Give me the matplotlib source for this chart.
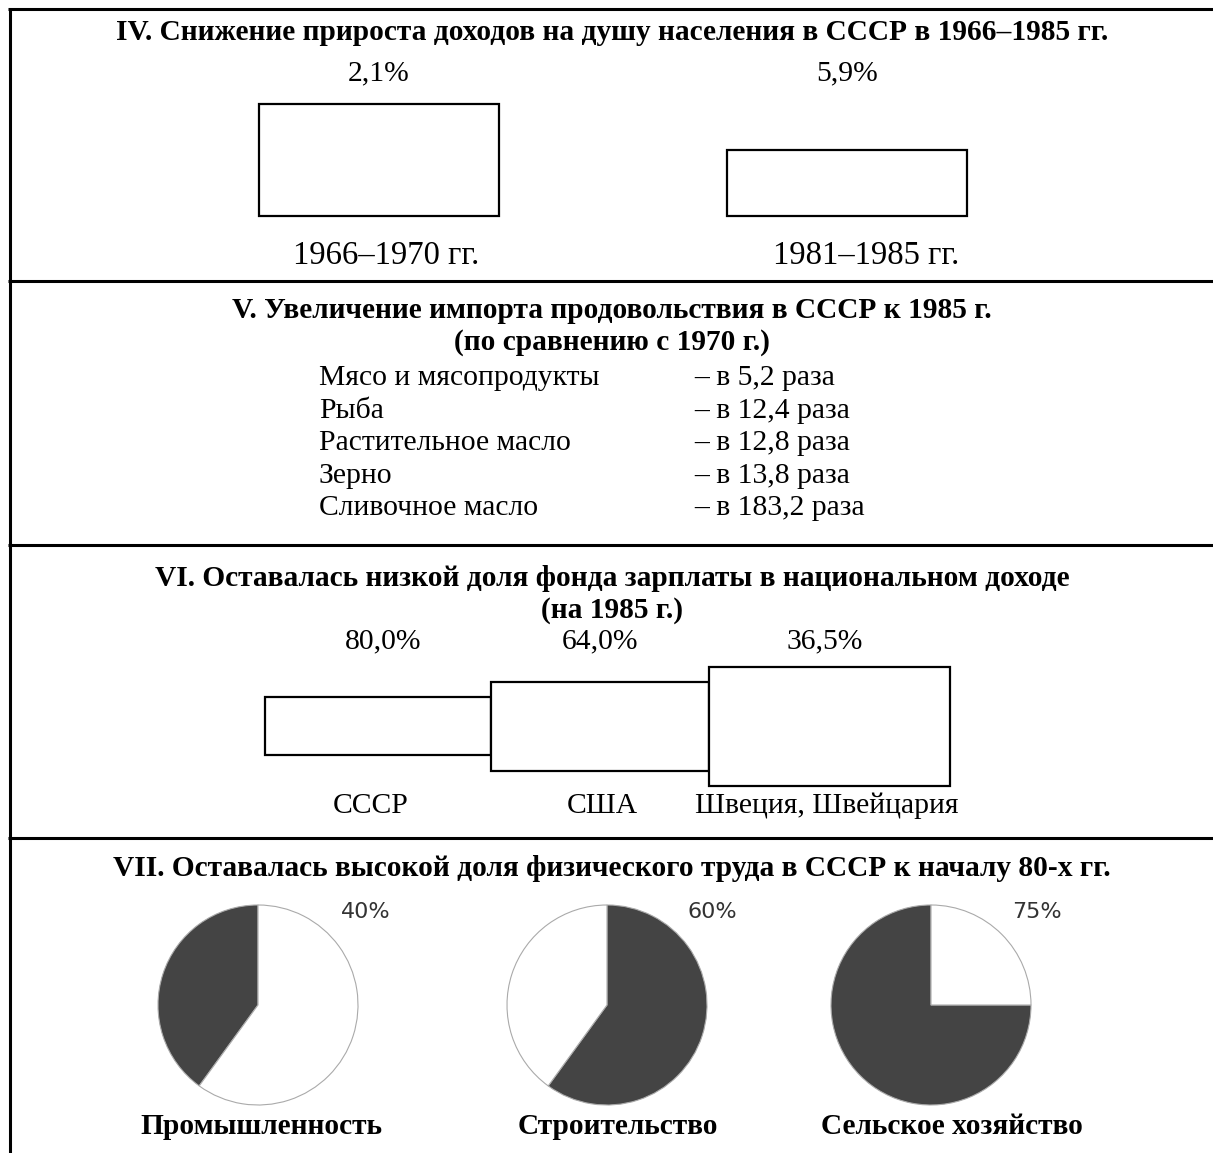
import matplotlib
matplotlib.use("Agg")
import matplotlib.pyplot as plt

# ---- data ----
income_titles = "IV. Снижение прироста доходов на душу населения в СССР в 1966–1985 гг."
income_periods = ["1966–1970 гг.", "1981–1985 гг."]
income_growth = [2.1, 5.9]
income_box_h = [112, 66]          # box heights as drawn

import_title = ["V. Увеличение импорта продовольствия в СССР к 1985 г.",
                "(по сравнению с 1970 г.)"]
import_items = ["Мясо и мясопродукты", "Рыба", "Растительное масло",
                "Зерно", "Сливочное масло"]
import_factor = [5.2, 12.4, 12.8, 13.8, 183.2]

wage_title = ["VI. Оставалась низкой доля фонда зарплаты в национальном доходе",
              "(на 1985 г.)"]
wage_countries = ["СССР", "США", "Швеция, Швейцария"]
wage_share = [80.0, 64.0, 36.5]
wage_box_h = [58, 89, 119]
wage_box_w = [226, 218, 241]

labor_title = "VII. Оставалась высокой доля физического труда в СССР к началу 80-х гг."
labor_sectors = ["Промышленность", "Строительство", "Сельское хозяйство"]
labor_share = [40, 60, 75]
labor_clockwise = [False, True, False]


def fmt(v, nd=1):
    return f"{v:.{nd}f}".replace(".", ",")


W, H = 1213, 1153
fig = plt.figure(figsize=(W / 100, H / 100), dpi=100)
ax = fig.add_axes([0, 0, 1, 1])
ax.axis("off")

SERIF = "Liberation Serif"
FS = 21.3
FSB = 21.2


def txt(x, y, s, bold=False, ha="center", size=None, **kw):
    ax.text(x, H - y, s, ha=ha, va="center", family=SERIF,
            fontweight="bold" if bold else "normal",
            fontsize=size or (FSB if bold else FS), **kw)


# frame
lw = 2.2
ax.plot([9.5, 9.5], [H - 8.5, 0], color="black", lw=lw, solid_capstyle="butt")
for yy in [8.5, 280.5, 544.5, 838]:
    ax.plot([8, W], [H - yy, H - yy], color="black", lw=lw, solid_capstyle="butt")

# ---- IV ----
txt(612, 33, income_titles, bold=True)
inc_x = [379, 847]
ax.bar(inc_x, income_box_h, width=240, bottom=H - 216, color="white",
       edgecolor="black", linewidth=1.6)
for x, g in zip(inc_x, income_growth):
    txt(x, 73, fmt(g) + "%")
for x, p in zip([386, 866], income_periods):
    txt(x, 256, p, size=23.5)

# ---- V ----
txt(612, 310, import_title[0], bold=True)
txt(612, 342, import_title[1], bold=True)
for i, (item, f) in enumerate(zip(import_items, import_factor)):
    y = 378 + i * 32.6
    txt(319, y, item, ha="left")
    txt(694, y, "– в " + fmt(f) + " раза", ha="left")

# ---- VI ----
txt(612, 578, wage_title[0], bold=True)
txt(612, 610, wage_title[1], bold=True)
left = 265
wx = []
for w in wage_box_w:
    wx.append(left + w / 2)
    left += w
ax.bar(wx, wage_box_h, width=wage_box_w,
       bottom=[H - 726 - h / 2 for h in wage_box_h],
       color="white", edgecolor="black", linewidth=1.6)
for x, s in zip([383, 600, 825], wage_share):
    txt(x, 641, fmt(s) + "%")
for x, c in zip([371, 602, 827], wage_countries):
    txt(x, 806, c)

# ---- VII ----
txt(612, 868, labor_title, bold=True)
pie_x = [258, 607, 931]
for x, share, cw in zip(pie_x, labor_share, labor_clockwise):
    ax.pie([share, 100 - share], colors=["#444444", "white"],
           startangle=90, counterclock=not cw, center=(x, H - 1005),
           radius=100, wedgeprops=dict(edgecolor="#aaaaaa", linewidth=0.8))
for x, share in zip([366, 712, 1037], labor_share):
    ax.text(x, H - 912, f"{share}%", ha="center", va="center",
            family="DejaVu Sans", fontsize=16, color="#333333")
for x, s in zip([261, 618, 952], labor_sectors):
    txt(x, 1127, s, bold=True)

ax.set_xlim(0, W)
ax.set_ylim(0, H)
ax.set_aspect("auto")
fig.savefig("out.png", dpi=100, facecolor="white")
